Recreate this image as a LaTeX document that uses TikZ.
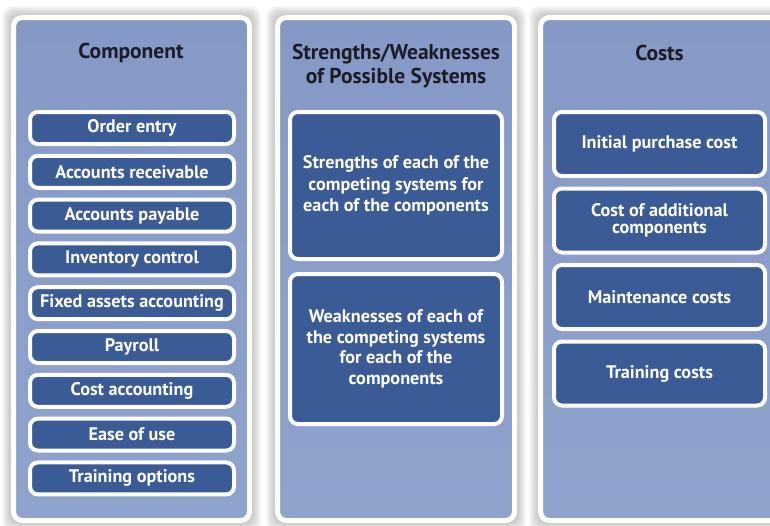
\documentclass[tikz,border=0pt]{standalone}
\usepackage{fontspec}
\setmainfont{PT Sans}
\definecolor{panelblue}{RGB}{144,163,205}
\definecolor{panelbluetop}{RGB}{134,153,198}
\definecolor{boxblue}{RGB}{59,91,150}
\definecolor{titleink}{RGB}{28,28,40}
\definecolor{bgshade}{RGB}{110,110,110}
\begin{document}
\begin{tikzpicture}[x=1pt,y=-1pt,
  panel/.style={draw=white, line width=5pt, rounded corners=9pt, top color=panelbluetop, bottom color=panelblue},
  item/.style={draw=white, line width=4pt, fill=boxblue, rounded corners=8pt, text=white,
    font=\bfseries\fontsize{18.2}{20}\selectfont, align=center, inner sep=0pt},
  ttl/.style={text=titleink, font=\bfseries\fontsize{21.5}{23.5}\selectfont, align=center, inner sep=0pt},
  row/.style={item, minimum width=204pt, minimum height=32pt},
  wide/.style={item, minimum width=212pt},
  cost/.style={item, minimum width=211pt, minimum height=64pt}]
\useasboundingbox (0,0) rectangle (770,525);
\fill[white] (0,0) rectangle (770,525);
% soft shadows
\foreach \a/\b in {11/252, 275/517, 538/800}{
  \foreach \k in {1,...,9}{
    \fill[bgshade, opacity=0.045, rounded corners=10pt] (\a-\k,15-\k) rectangle (\b+\k,523+\k);
  }
}
% panels
\draw[panel] (13.5,17.5) rectangle (249.5,520.5);
\draw[panel] (277.5,17.5) rectangle (514.5,520.5);
\draw[panel] (540.5,17.5) rectangle (800,520.5);
% titles
\node[ttl] (t1) at (131,53) {Component};
\node[ttl] (t2) at (396,66) {Strengths/Weaknesses\\of Possible Systems};
\node[ttl] (t3) at (659.5,53) {Costs};
% component column
\node[row] (c1) at (132,128.0) {Order entry};
\node[row] (c2) at (132,171.8) {Accounts receivable};
\node[row] (c3) at (132,215.6) {Accounts payable};
\node[row] (c4) at (132,259.4) {Inventory control};
\node[row] (c5) at (132,303.2) {Fixed assets accounting};
\node[row] (c6) at (132,347.0) {Payroll};
\node[row] (c7) at (132,390.8) {Cost accounting};
\node[row] (c8) at (132,434.6) {Ease of use};
\node[row] (c9) at (132,478.4) {Training options};
% strengths / weaknesses column
\node[wide, minimum height=147pt, font=\bfseries\fontsize{18.2}{21.5}\selectfont] (s1) at (396,185.5)
  {Strengths of each of the\\competing systems for\\each of the components};
\node[wide, minimum height=150pt, font=\bfseries\fontsize{18.2}{20.5}\selectfont] (s2) at (396,349)
  {Weaknesses of each of\\the competing systems\\for each of the\\components};
% costs column
\node[cost] (k1) at (659.5,144) {Initial purchase cost};
\node[cost, font=\bfseries\fontsize{18.2}{17}\selectfont, text depth=4pt] (k2) at (659.5,220.5) {Cost of additional\\components};
\node[cost] (k3) at (659.5,297) {Maintenance costs};
\node[cost] (k4) at (659.5,373.5) {Training costs};
\end{tikzpicture}
\end{document}
